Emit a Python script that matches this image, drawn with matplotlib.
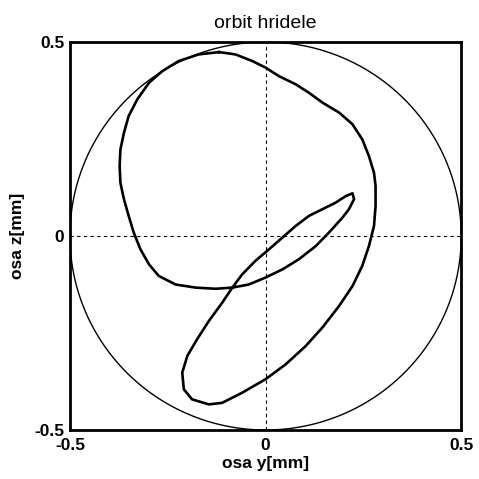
import numpy as np
import matplotlib
matplotlib.use("Agg")
import matplotlib.pyplot as plt

# shaft orbit, one revolution (y, z in mm)
orbit_y = [-0.119, -0.171, -0.222, -0.264, -0.298, -0.328, -0.350, -0.362, -0.371,
           -0.373, -0.371, -0.362, -0.350, -0.337, -0.320, -0.298, -0.273, -0.230,
           -0.179, -0.128, -0.085, -0.043, 0.000, 0.043, 0.085, 0.128, 0.162,
           0.196, 0.213, 0.226, 0.222, 0.205, 0.179, 0.145, 0.111, 0.077, 0.043,
           0.009, -0.026, -0.060, -0.085, -0.111, -0.145, -0.175, -0.200, -0.213,
           -0.209, -0.188, -0.145, -0.111, -0.060, 0.000, 0.051, 0.102, 0.145,
           0.188, 0.222, 0.247, 0.264, 0.277, 0.281, 0.281, 0.277, 0.264, 0.247,
           0.222, 0.188, 0.145, 0.111, 0.077, 0.034, 0.000, -0.034, -0.077, -0.119]
orbit_z = [0.474, 0.468, 0.451, 0.425, 0.395, 0.352, 0.309, 0.266, 0.223,
           0.180, 0.137, 0.095, 0.052, 0.009, -0.034, -0.073, -0.103, -0.125,
           -0.133, -0.136, -0.133, -0.125, -0.107, -0.086, -0.060, -0.026, 0.009,
           0.047, 0.069, 0.095, 0.110, 0.103, 0.086, 0.069, 0.052, 0.026, -0.004,
           -0.034, -0.064, -0.099, -0.133, -0.172, -0.219, -0.266, -0.309, -0.352,
           -0.395, -0.421, -0.434, -0.430, -0.404, -0.369, -0.331, -0.284, -0.236,
           -0.180, -0.129, -0.077, -0.026, 0.026, 0.077, 0.129, 0.163, 0.206, 0.249,
           0.288, 0.318, 0.344, 0.369, 0.391, 0.412, 0.434, 0.451, 0.468, 0.474]

clearance_r = 0.5
ticks = [-0.5, 0, 0.5]
tick_labels = ["-0.5", "0", "0.5"]

plt.rcParams["font.family"] = ["Liberation Sans", "DejaVu Sans"]

fig = plt.figure(figsize=(4.79, 4.79), dpi=100)
ax = fig.add_axes([0.146, 0.1023, 0.817, 0.81])

# bearing clearance circle
phi = np.linspace(0, 2 * np.pi, 400)
ax.plot(clearance_r * np.cos(phi), clearance_r * np.sin(phi), color="black", lw=1.0)

ax.axhline(0, color="black", lw=0.8, ls=(0, (3, 3)))
ax.axvline(0, color="black", lw=0.8, ls=(0, (3, 3)))

ax.plot(orbit_y, orbit_z, color="black", lw=1.9, solid_joinstyle="round")

ax.set_xlim(-0.5, 0.5)
ax.set_ylim(-0.5, 0.5)
ax.set_xticks(ticks)
ax.set_xticklabels(tick_labels, fontweight="bold", fontsize=12.5)
ax.set_yticks(ticks)
ax.set_yticklabels(tick_labels, fontweight="bold", fontsize=12.5)
ax.tick_params(axis="x", length=0, pad=6)
ax.tick_params(axis="y", length=0, pad=4)
for s in ax.spines.values():
    s.set_linewidth(2.0)

ax.set_title("orbit hridele", fontsize=14, pad=10)
ax.set_xlabel("osa y[mm]", fontweight="bold", fontsize=12.5, labelpad=2)
ax.set_ylabel("osa z[mm]", fontweight="bold", fontsize=12.5, labelpad=7)

fig.savefig("out.png", dpi=100)
